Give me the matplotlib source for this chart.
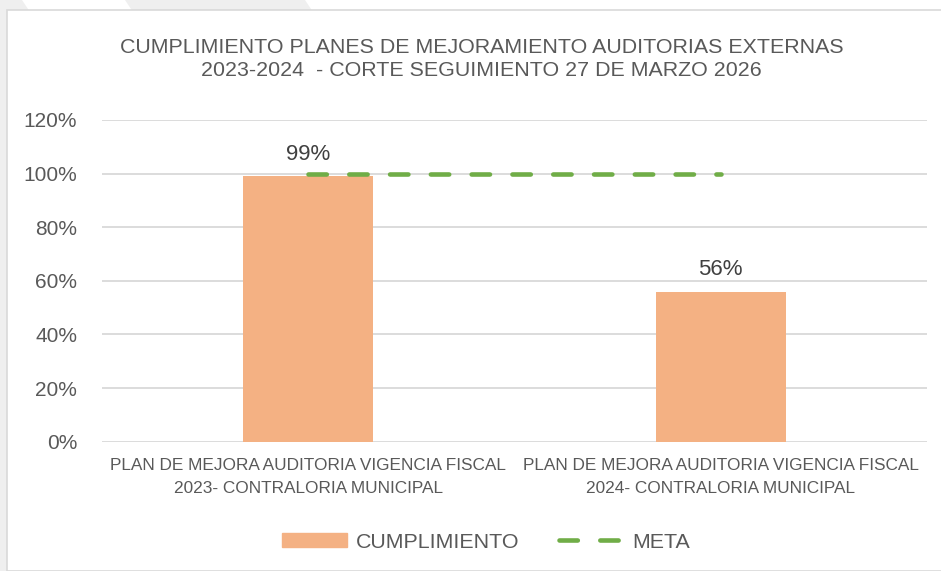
import matplotlib.pyplot as plt
import matplotlib.patches as mpatches
from matplotlib.lines import Line2D
from matplotlib.ticker import PercentFormatter

plt.rcParams['font.family'] = ['Liberation Sans', 'DejaVu Sans']

categories = ['PLAN DE MEJORA AUDITORIA VIGENCIA FISCAL\n2023- CONTRALORIA MUNICIPAL',
              'PLAN DE MEJORA AUDITORIA VIGENCIA FISCAL\n2024- CONTRALORIA MUNICIPAL']
cumplimiento = [0.99, 0.56]
meta = [1.0, 1.0]
bar_labels = ['99%', '56%']

text_color = '#595959'
bar_color = '#F4B183'
line_color = '#70AD47'
grid_color = '#D9D9D9'

W, H = 941, 571
fig = plt.figure(figsize=(W / 100, H / 100), dpi=100)
fig.patch.set_facecolor('#EFEFEF')

# decorative white stripes at the top edge
for x0, x1 in [(22, 125), (305, 960)]:
    fig.patches.append(mpatches.Polygon(
        [(x0 / W, 1), (x1 / W, 1), ((x1 + 8) / W, 1 - 12 / H), ((x0 + 8) / W, 1 - 12 / H)],
        closed=True, transform=fig.transFigure, facecolor='white', edgecolor='none', zorder=0))

# white chart area with thin border
fig.patches.append(mpatches.Rectangle((7 / W, 0), 1, 1 - 10 / H, transform=fig.transFigure,
                                      facecolor='white', edgecolor=grid_color, linewidth=1.2, zorder=1))

ax = fig.add_axes([102 / W, 1 - 441.7 / H, 825 / W, 321.7 / H])
ax.set_facecolor('none')
ax.set_zorder(2)

x = range(len(categories))
bars = ax.bar(x, cumplimiento, width=0.315, color=bar_color, zorder=2)
ax.plot(x, meta, color=line_color, linewidth=3.3, dashes=(4.0, 4.9),
        dash_capstyle='round', solid_capstyle='round', zorder=3)

for b, lab in zip(bars, bar_labels):
    ax.annotate(lab, (b.get_x() + b.get_width() / 2, b.get_height()),
                xytext=(0, 8), textcoords='offset points', ha='center', va='bottom',
                fontsize=16, color='#404040')

ax.set_xlim(-0.5, 1.5)
ax.set_ylim(0, 1.2)
ax.set_yticks([0, 0.2, 0.4, 0.6, 0.8, 1.0, 1.2])
ax.yaxis.set_major_formatter(PercentFormatter(1.0, decimals=0))
ax.set_xticks(list(x))
ax.set_xticklabels(categories, fontsize=12.4, color=text_color, linespacing=1.62)
ax.tick_params(axis='y', labelsize=15, labelcolor=text_color, length=0, pad=18)
ax.tick_params(axis='x', length=0, pad=12)
ax.grid(axis='y', color=grid_color, linewidth=1.3, zorder=0)
for s in ax.spines.values():
    s.set_visible(False)

fig.text(0.5 * (120 + 843) / W, 1 - 59 / H,
         'CUMPLIMIENTO PLANES DE MEJORAMIENTO AUDITORIAS EXTERNAS\n2023-2024  - CORTE SEGUIMIENTO 27 DE MARZO 2026',
         ha='center', va='center', fontsize=15.4, color=text_color, linespacing=1.3, zorder=3)

handles = [mpatches.Patch(color=bar_color, label='CUMPLIMIENTO'),
           Line2D([0], [0], color=line_color, linewidth=3.3, dashes=(4.0, 4.9),
                  dash_capstyle='round', label='META')]
fig.legend(handles=handles, loc='center', bbox_to_anchor=(486 / W, 1 - 542 / H), ncol=2,
           frameon=False, fontsize=15.4, labelcolor=text_color, handlelength=3.08,
           handleheight=0.6, columnspacing=1.87, handletextpad=0.37)

fig.savefig('out.png', dpi=100, facecolor=fig.get_facecolor())
